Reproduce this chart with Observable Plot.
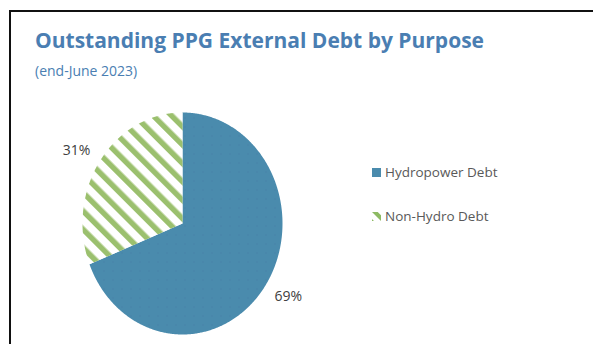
<!DOCTYPE html>
<html>
<head>
<meta charset="utf-8">
<script src="https://cdn.jsdelivr.net/npm/d3@7"></script>
<script src="https://cdn.jsdelivr.net/npm/@observablehq/plot@0.6"></script>
<style>
  html, body { margin: 0; padding: 0; background: #fff; }
  #wrap { position: relative; width: 593px; height: 344px; overflow: hidden; background: #fff; font-family: "Open Sans", sans-serif; }
  #borderTop { position: absolute; left: 9px; top: 10px; width: 584px; height: 2px; background: #111; }
  #borderLeft { position: absolute; left: 9px; top: 10px; width: 2px; height: 334px; background: #111; }
  #title { position: absolute; left: 35px; top: 28px; font-weight: 700; font-size: 21px; color: #4A7EB2; white-space: nowrap; line-height: 1.2; }
  #subtitle { position: absolute; left: 35px; top: 63px; font-size: 14px; color: #4A7EB2; white-space: nowrap; line-height: 1.2; }
  #chart { position: absolute; left: 0; top: 95px; }
  .leg { position: absolute; left: 372px; font-size: 13.5px; color: #595959; white-space: nowrap; display: flex; align-items: center; }
  .leg svg { margin-right: 4px; }
</style>
</head>
<body>
<div id="wrap">
  <div id="borderTop"></div>
  <div id="borderLeft"></div>
  <div id="title"></div>
  <div id="subtitle"></div>
  <div id="chart"></div>
  <div id="legend"></div>
</div>
<script>
// ---- data ----
const titleText = "Outstanding PPG External Debt by Purpose";
const subtitleText = "(end-June 2023)";
const categories = ["Hydropower Debt", "Non-Hydro Debt"];
const shares = [69, 31];
const shareLabels = ["69%", "31%"];
const fills = ["url(#blueFill)", "url(#greenHatch)"];

// ---- titles ----
const titleEl = document.getElementById("title");
titleEl.textContent = titleText;
{
  const ctx = document.createElement("canvas").getContext("2d");
  ctx.font = '700 21px "Open Sans"';
  const w = ctx.measureText(titleText).width;
  const ls = Math.max(-1.2, Math.min(0, (452 - w) / (titleText.length - 1)));
  titleEl.style.letterSpacing = ls + "px";
}
document.getElementById("subtitle").textContent = subtitleText;

// ---- pie geometry from data (angles clockwise from 12 o'clock) ----
const total = d3.sum(shares);
let acc = 0;
const slices = categories.map((c, i) => {
  const a0 = acc / total * 2 * Math.PI;
  acc += shares[i];
  const a1 = acc / total * 2 * Math.PI;
  const n = Math.max(8, Math.ceil((a1 - a0) / (Math.PI / 360)));
  const pts = [{key: c, x: 0, y: 0}];
  for (let k = 0; k <= n; k++) {
    const a = a0 + (a1 - a0) * k / n;
    pts.push({key: c, x: Math.sin(a), y: Math.cos(a)});
  }
  const mid = (a0 + a1) / 2;
  return {key: c, pts, fill: fills[i], label: shareLabels[i], lx: Math.sin(mid) * 1.28, ly: Math.cos(mid) * 1.17};
});

const plot = Plot.plot({
  width: 593,
  height: 249,
  margin: 0,
  x: {domain: [-1, 1], range: [82, 282], axis: null},
  y: {domain: [-1, 1], range: [239, 17], axis: null},
  marks: [
    ...slices.map(s => Plot.line(s.pts, {x: "x", y: "y", fill: s.fill, stroke: "none", curve: "linear-closed"})),
    Plot.text(slices, {x: "lx", y: "ly", text: "label", fill: "#404040", fontSize: 14, fontFamily: "Open Sans", textAnchor: "middle"})
  ]
});

d3.select(plot).insert("defs", ":first-child").html(`
  <pattern id="blueFill" patternUnits="userSpaceOnUse" width="9" height="9">
    <rect width="9" height="9" fill="#4A8BAD"/>
    <rect x="4" y="4" width="1" height="1" fill="#4779A6"/>
  </pattern>
  <pattern id="greenHatch" patternUnits="userSpaceOnUse" width="13" height="13" patternTransform="rotate(-45)">
    <rect width="13" height="13" fill="#ffffff"/>
    <rect x="0" y="0" width="5.5" height="13" fill="#9BC06E"/>
  </pattern>
  <pattern id="legHatch" patternUnits="userSpaceOnUse" width="9" height="9" patternTransform="rotate(-45)">
    <rect width="9" height="9" fill="#ffffff"/>
    <rect x="0" y="0" width="4" height="9" fill="#8DBA63"/>
  </pattern>
`);
document.getElementById("chart").appendChild(plot);

// ---- legend ----
const legend = document.getElementById("legend");
const legTops = [163, 207];
const legFills = ["#4A8BAD", "url(#legHatch)"];
categories.forEach((c, i) => {
  const d = document.createElement("div");
  d.className = "leg";
  d.style.top = legTops[i] + "px";
  d.innerHTML = `<svg width="9" height="9"><rect width="9" height="9" fill="${legFills[i]}"/></svg><span>${c}</span>`;
  legend.appendChild(d);
});
</script>
</body>
</html>
